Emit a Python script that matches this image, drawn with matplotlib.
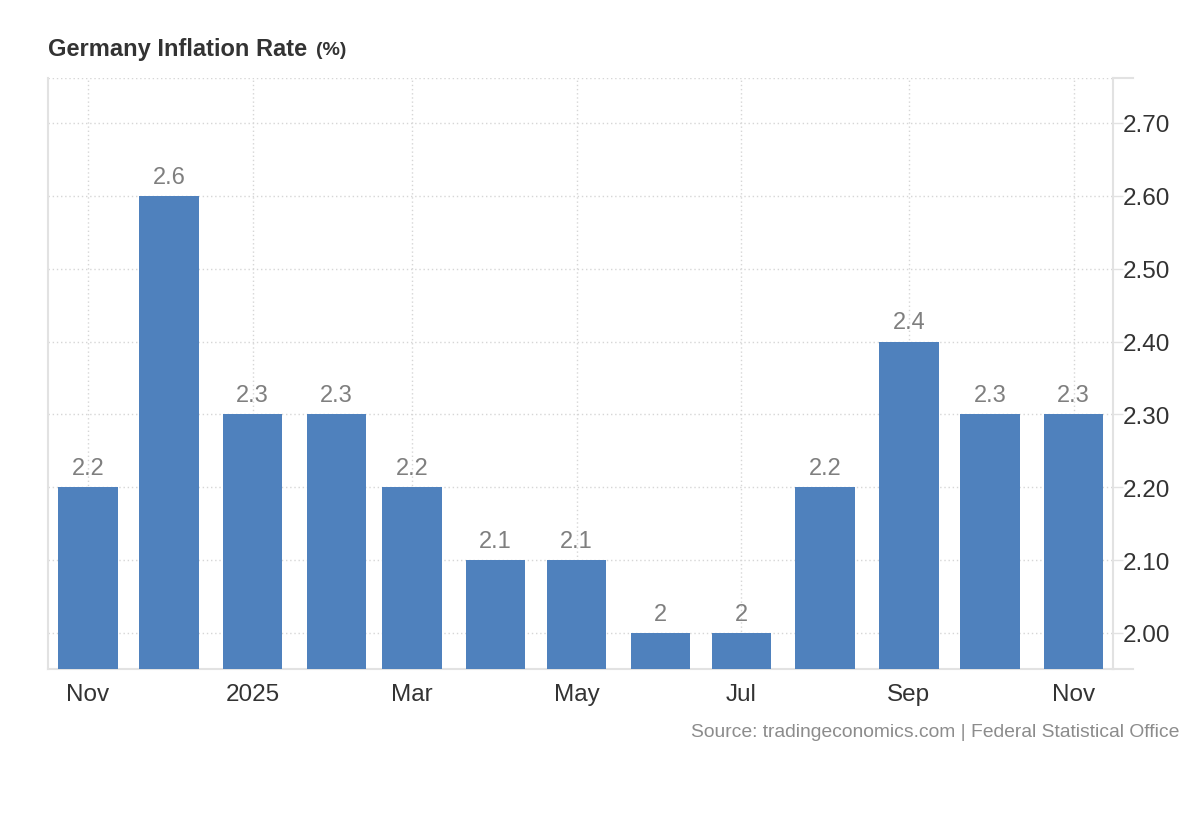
import numpy as np
import pandas as pd
import matplotlib
matplotlib.use("Agg")
import matplotlib.pyplot as plt
import matplotlib.dates as mdates

plt.rcParams['font.family'] = ['Liberation Sans', 'DejaVu Sans']

# monthly readings, Nov 2024 .. Nov 2025
months = pd.date_range("2024-11-01", "2025-11-01", freq="MS")
values = [2.2, 2.6, 2.3, 2.3, 2.2, 2.1, 2.1, 2.0, 2.0, 2.2, 2.4, 2.3, 2.3]
labels = ["2.2", "2.6", "2.3", "2.3", "2.2", "2.1", "2.1", "2", "2", "2.2", "2.4", "2.3", "2.3"]
xtick_dates = pd.to_datetime(["2024-11-01", "2025-01-01", "2025-03-01", "2025-05-01",
                              "2025-07-01", "2025-09-01", "2025-11-01"])
xtick_labels = ["Nov", "2025", "Mar", "May", "Jul", "Sep", "Nov"]
yticks = [2.0, 2.1, 2.2, 2.3, 2.4, 2.5, 2.6, 2.7]

bar_color = "#4f81bd"
grid_color = "#d6d6d6"
axis_color = "#e2e2e2"
text_dark = "#333333"

fig = plt.figure(figsize=(12, 8.2), dpi=100)
ax = fig.add_axes([0.04, 0.183, 0.8875, 0.7207])

ax.bar(months, values, width=22, color=bar_color, zorder=3)
for d, v, t in zip(months, values, labels):
    ax.annotate(t, (mdates.date2num(d), v), xytext=(0, 6), textcoords="offset points",
                ha="center", va="bottom", fontsize=17, color="#7f7f7f", zorder=4)

ax.set_ylim(1.9506, 2.7618)
ax.set_xlim(mdates.date2num(pd.Timestamp("2024-11-01")) - 14.8,
            mdates.date2num(pd.Timestamp("2024-11-01")) + 379.6)

ax.yaxis.tick_right()
ax.set_yticks(yticks)
ax.set_yticklabels([f"{y:.2f}" for y in yticks])
ax.tick_params(axis="y", length=7, width=1, color=axis_color, pad=0,
               labelsize=17.5, labelcolor=text_dark)

ax.set_xticks(mdates.date2num(xtick_dates))
ax.set_xticklabels(xtick_labels)
ax.tick_params(axis="x", length=0, pad=10, labelsize=17.5, labelcolor=text_dark)

ax.grid(True, color=grid_color, linestyle=(0, (1, 2)), linewidth=1, zorder=0)
ax.axhline(ax.get_ylim()[1], color=grid_color, linestyle=(0, (1, 2)), linewidth=1, zorder=0)

for side in ["top"]:
    ax.spines[side].set_visible(False)
for side in ["left", "right", "bottom"]:
    ax.spines[side].set_color(axis_color)
    ax.spines[side].set_linewidth(1.5)

# short extensions of the top and bottom lines past the right axis
ext = 20 / (0.8875 * 1200)
for yy in (0, 1):
    ax.plot([1, 1 + ext], [yy, yy], transform=ax.transAxes, color=axis_color,
            linewidth=1.5, clip_on=False)

fig.text(0.04, 0.94, "Germany Inflation Rate", fontsize=17, fontweight="bold",
         color=text_dark, ha="left", va="center")
fig.text(0.263, 0.938, "(%)", fontsize=14, fontweight="bold",
         color=text_dark, ha="left", va="center")
fig.text(0.983, 0.107, "Source: tradingeconomics.com | Federal Statistical Office",
         fontsize=13.9, color="#8c8c8c", ha="right", va="center")

fig.savefig("out.png", dpi=100)
